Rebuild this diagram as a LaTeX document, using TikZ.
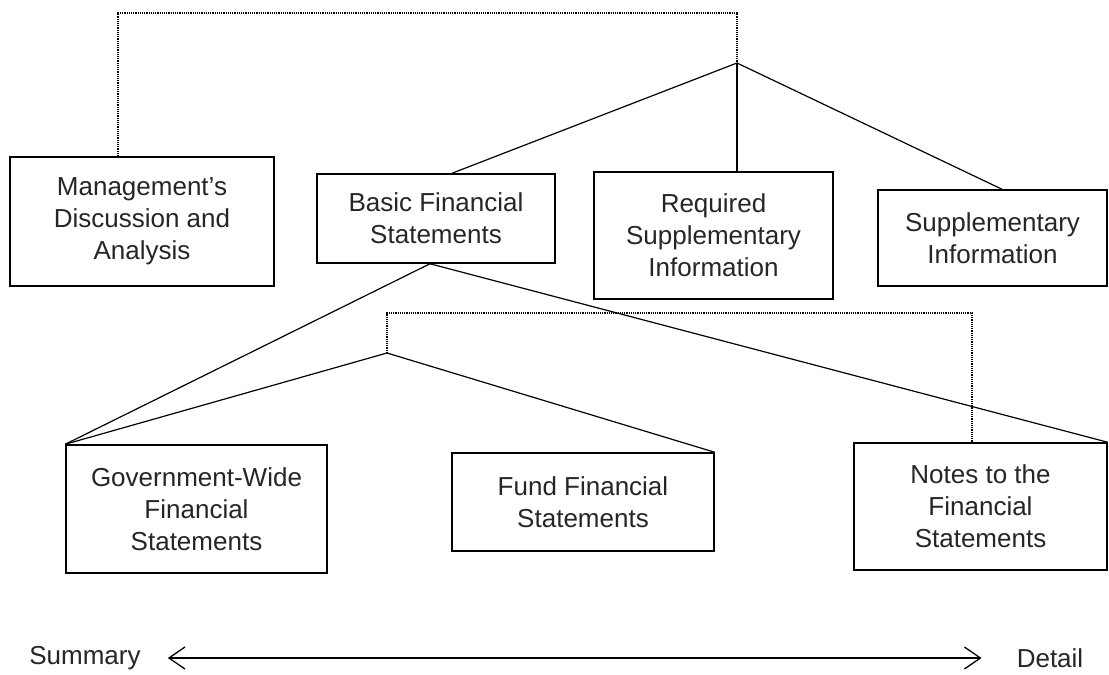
\documentclass[tikz,border=0pt]{standalone}
\usepackage{fontspec}
\setmainfont{Liberation Sans}
\usetikzlibrary{arrows.meta,calc}
\begin{document}
\begin{tikzpicture}[x=1pt,y=-1pt,
  box/.style={draw,line width=1.5pt,align=center,inner sep=0pt,
    font=\fontsize{26}{32}\selectfont,text=black!85},
  lbl/.style={inner sep=0pt,font=\fontsize{26}{32}\selectfont,text=black!85},
  conn/.style={line width=1.2pt},
  dots/.style={line width=1.2pt,densely dotted},
  axis/.style={line width=1.3pt,>={Straight Barb[length=16pt,width=22pt,line width=1.3pt]},<->}]
\useasboundingbox[fill=white] (0,0) rectangle (1109,675);
% top row
\node[box,minimum width=264pt,minimum height=129pt] (mda) at (142,221.5) {Management's\\Discussion and\\Analysis};
\node[box,minimum width=238pt,minimum height=89pt] (bfs) at (436,218.5) {Basic Financial\\Statements};
\node[box,minimum width=239pt,minimum height=127pt] (rsi) at (713.5,235.5) {Required\\Supplementary\\Information};
\node[box,minimum width=229pt,minimum height=96pt] (si) at (992.5,238) {Supplementary\\Information};
% bottom row
\node[box,minimum width=261pt,minimum height=128pt] (gw) at (196.5,509) {Government-Wide\\Financial\\Statements};
\node[box,minimum width=262pt,minimum height=98pt] (fund) at (583,502) {Fund Financial\\Statements};
\node[box,minimum width=253pt,minimum height=127pt] (notes) at (980.5,506.5) {Notes to the\\Financial\\Statements};
% junctions
\coordinate (j1) at (737,63);
\coordinate (t1) at (118,13);
\coordinate (t2) at (737,13);
\coordinate (j2) at (387,353);
\coordinate (b1) at (387,313);
\coordinate (b2) at (972,313);
\coordinate (bfsb) at ([xshift=-6pt]bfs.south);
% connectors
\draw[conn] (j1) -- ([xshift=16pt]bfs.north);
\draw[conn] (j1) -- (j1 |- rsi.north);
\draw[conn] (j1) -- ([xshift=9.5pt]si.north);
\draw[dots] ([xshift=-24pt]mda.north) -- (t1) -- (t2) -- (j1);
\draw[conn] (bfsb) -- (gw.north west);
\draw[conn] (bfsb) -- (notes.north east);
\draw[conn] (j2) -- (gw.north west);
\draw[conn] (j2) -- (fund.north east);
\draw[dots] (j2) -- (b1) -- (b2) -- (b2 |- notes.north);
% summary-detail axis
\node[lbl] (sum) at (85,658) {Summary};
\node[lbl] (det) at (1050,658) {Detail};
\draw[axis] ([xshift=27pt]sum.east) -- ([xshift=-35pt]det.west);
\end{tikzpicture}
\end{document}
